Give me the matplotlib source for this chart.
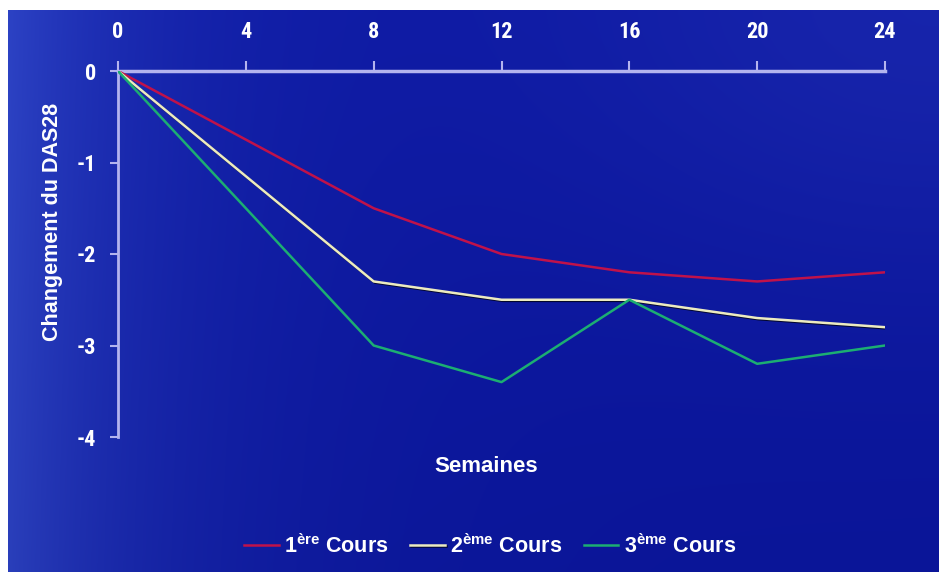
import numpy as np
import matplotlib
matplotlib.use("Agg")
import matplotlib.pyplot as plt
import matplotlib.patheffects as pe
from matplotlib import font_manager

# Weeks and mean DAS28 change for each treatment course
weeks = [0, 8, 12, 16, 20, 24]
cours1 = [0, -1.5, -2.0, -2.2, -2.3, -2.2]
cours2 = [0, -2.3, -2.5, -2.5, -2.7, -2.8]
cours3 = [0, -3.0, -3.4, -2.5, -3.2, -3.0]
x_ticks = [0, 4, 8, 12, 16, 20, 24]
y_ticks = [0, -1, -2, -3, -4]
labels = [r"1$^{\mathregular{ère}}$ Cours",
          r"2$^{\mathregular{ème}}$ Cours",
          r"3$^{\mathregular{ème}}$ Cours"]

plt.rcParams["font.family"] = ["Liberation Sans", "DejaVu Sans"]
plt.rcParams["font.weight"] = "bold"
plt.rcParams["axes.unicode_minus"] = False
plt.rcParams["mathtext.fontset"] = "custom"
plt.rcParams["mathtext.rm"] = "Liberation Sans:bold"
plt.rcParams["mathtext.it"] = "Liberation Sans:bold"
plt.rcParams["mathtext.bf"] = "Liberation Sans:bold"

# Condensed face for tick numbers, if one is installed
installed = {f.name for f in font_manager.fontManager.ttflist}
tick_family = [n for n in ["Liberation Sans Narrow", "DejaVu Sans Condensed",
                           "Roboto Condensed", "Liberation Sans"] if n in installed][:1]
tick_family = tick_family + ["DejaVu Sans"]

W, H, DPI = 939, 572, 100
fig = plt.figure(figsize=(W / DPI, H / DPI), dpi=DPI, facecolor="white")

# Blue gradient backdrop with a white margin on the top and left
bg = fig.add_axes([8 / W, 0, 1 - 8 / W, 1 - 10 / H])
bg.set_axis_off()
nx, ny = 400, 250
gx = np.linspace(0, 1, nx)[None, :]
gy = np.linspace(0, 1, ny)[:, None]
left_glow = np.exp(-gx / 0.16)
top_right = np.exp(-(((gx - 1.0) / 0.45) ** 2 + (gy / 0.5) ** 2))
base = np.array([11, 22, 160]) / 255.0
glow = np.array([44, 66, 196]) / 255.0
tr = np.array([28, 42, 176]) / 255.0
img = base[None, None, :] * np.ones((ny, nx, 1))
img = img + (glow - base)[None, None, :] * left_glow[..., None]
img = img + (tr - base)[None, None, :] * (top_right[..., None] * 0.7)
img = img * (1 - 0.05 * gy[..., None])
bg.imshow(np.clip(img, 0, 1), aspect="auto", extent=[0, 1, 0, 1],
          interpolation="bilinear")
bg.set_xlim(0, 1)
bg.set_ylim(0, 1)

ax = fig.add_axes([118 / W, 1 - 437 / H, (885 - 118) / W, (437 - 71) / H])
ax.patch.set_alpha(0)

axis_col = "#b4b4ee"
ax.plot(weeks, cours1, color="#c0124a", lw=1.8, label=labels[0], zorder=3)
ax.plot(weeks, cours2, color="#ecebc0", lw=1.8, label=labels[1], zorder=3,
        path_effects=[pe.SimpleLineShadow(offset=(0.8, -0.8), shadow_color="black", alpha=0.7),
                      pe.Normal()])
ax.plot(weeks, cours3, color="#1cae72", lw=1.8, label=labels[2], zorder=3)

ax.set_xlim(0, 24)
ax.set_ylim(-4, 0)
ax.set_xticks(x_ticks)
ax.set_yticks(y_ticks)

for s in ["right", "bottom"]:
    ax.spines[s].set_visible(False)
ax.spines["top"].set_color(axis_col)
ax.spines["top"].set_linewidth(2.5)
ax.spines["left"].set_color(axis_col)
ax.spines["left"].set_linewidth(2.0)
ax.spines["top"].set_zorder(2)

ax.xaxis.tick_top()
ax.tick_params(axis="x", direction="out", length=7, width=1.5, color=axis_col,
               pad=13, labelcolor="white")
ax.tick_params(axis="y", direction="out", length=6, width=1.5, color=axis_col,
               pad=10, labelcolor="white")
for t in ax.get_xticklabels() + ax.get_yticklabels():
    t.set_fontfamily(tick_family)
    t.set_fontsize(16)
    t.set_fontweight("bold")

ax.set_ylabel("Changement du DAS28", color="white", fontsize=15.5,
              fontweight="bold")
ax.yaxis.set_label_coords(-0.072, 0.587)
fig.text(486 / W, 1 - 466 / H, "Semaines", color="white", fontsize=16,
         fontweight="bold", ha="center", va="center")

leg = fig.legend(loc="center", bbox_to_anchor=(490 / W, 1 - 546 / H), ncol=3,
                 frameon=False, fontsize=15.5, handlelength=1.6,
                 handletextpad=0.25, columnspacing=1.0)
for t in leg.get_texts():
    t.set_color("white")

fig.savefig("out.png", dpi=DPI, facecolor="white")
